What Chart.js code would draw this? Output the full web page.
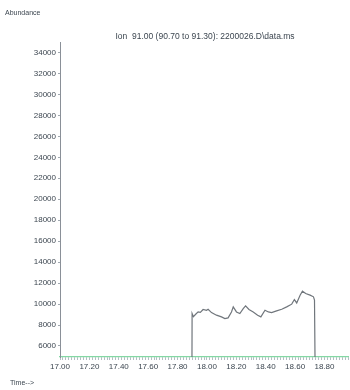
<!DOCTYPE html>
<html>
<head>
<meta charset="utf-8">
<script src="https://cdn.jsdelivr.net/npm/chart.js@4/dist/chart.umd.min.js"></script>
<style>
  html, body { margin: 0; padding: 0; background: #fff; }
  #c { display: block; }
</style>
</head>
<body>
<canvas id="c" width="350" height="390"></canvas>
<script>
// Extracted ion chromatogram, m/z 91 (retention time in minutes vs. abundance)
const titleText = "Ion  91.00 (90.70 to 91.30): 2200026.D\\data.ms";
const yAxisName = "Abundance";
const xAxisName = "Time-->";

const retentionTimes = [
  17.00, 17.898,
  17.899, 17.908, 17.925, 17.940, 17.955, 17.974, 17.997, 18.008, 18.031, 18.065, 18.099, 18.122,
  18.144, 18.167, 18.179, 18.201, 18.224, 18.247, 18.263, 18.286, 18.315, 18.345,
  18.367, 18.395, 18.418, 18.440, 18.474, 18.509, 18.543, 18.577, 18.595, 18.611,
  18.634, 18.650, 18.672, 18.702, 18.725, 18.732,
  18.736, 18.96
];
const abundance = [
  4000, 4000,
  9100, 8800, 9050, 9250, 9200, 9480, 9410, 9510, 9190, 8940, 8780, 8620,
  8680, 9250, 9730, 9250, 9100, 9570, 9830, 9480, 9250, 8940,
  8780, 9410, 9250, 9190, 9350, 9510, 9730, 9990, 10430, 10110,
  10850, 11230, 11010, 10850, 10690, 10370,
  4000, 4000
];

const yTickMin = 6000, yTickMax = 34000, yTickStep = 2000;
const xLabelStep = 0.2, xMinorStep = 0.02;

const points = retentionTimes.map((t, i) => ({ x: t, y: abundance[i] }));

const textColor = "#3c4650";
const fontFamily = "'Liberation Sans', Arial, sans-serif";

// Header and axis captions drawn around the plot area
const captions = {
  id: "captions",
  afterDraw(chart) {
    const { ctx, chartArea } = chart;
    ctx.save();
    ctx.fillStyle = textColor;
    ctx.font = "7px " + fontFamily;
    ctx.textBaseline = "middle";
    ctx.textAlign = "left";
    ctx.fillText(yAxisName, 5, 13);
    ctx.font = "8.5px " + fontFamily;
    ctx.textAlign = "center";
    ctx.fillText(titleText, 205, chartArea.top - 5);
    ctx.textAlign = "left";
    ctx.font = "7px " + fontFamily;
    ctx.fillText(xAxisName, 10, 383);
    ctx.restore();
  }
};

new Chart(document.getElementById("c"), {
  type: "line",
  data: {
    datasets: [{
      data: points,
      borderColor: "#70767c",
      borderWidth: 1.2,
      pointRadius: 0,
      tension: 0,
      fill: false
    }]
  },
  options: {
    responsive: false,
    animation: false,
    devicePixelRatio: 1,
    layout: { padding: { top: 42, right: 2, left: 0, bottom: 0 } },
    plugins: {
      legend: { display: false },
      tooltip: { enabled: false },
      title: { display: false }
    },
    scales: {
      x: {
        type: "linear",
        min: 17.0,
        max: 18.96,
        afterFit(scale) { scale.height = 33; },
        afterBuildTicks(scale) {
          const ticks = [];
          for (let i = 0; 17.0 + i * xMinorStep <= 18.96 + 1e-9; i++) {
            ticks.push({ value: +(17.0 + i * xMinorStep).toFixed(2) });
          }
          scale.ticks = ticks;
        },
        border: { display: true, color: "#84d8a4", width: 1.2 },
        grid: {
          display: true,
          drawOnChartArea: false,
          drawTicks: true,
          tickLength: 3,
          color: "#b4bcc4",
          lineWidth: 1
        },
        ticks: {
          autoSkip: false,
          maxRotation: 0,
          padding: 2,
          color: textColor,
          font: { size: 8, family: fontFamily },
          callback(value) {
            const k = Math.round(value / xMinorStep);
            return (k % Math.round(xLabelStep / xMinorStep) === 0) ? value.toFixed(2) : "";
          }
        }
      },
      y: {
        type: "linear",
        min: 4950,
        max: 35000,
        afterFit(scale) { scale.width = 60; },
        afterBuildTicks(scale) {
          const ticks = [];
          for (let v = yTickMin; v <= yTickMax; v += yTickStep) ticks.push({ value: v });
          scale.ticks = ticks;
        },
        border: { display: true, color: "#8a9098", width: 1 },
        grid: {
          display: true,
          drawOnChartArea: false,
          drawTicks: true,
          tickLength: 2,
          color: "#a0a8b0"
        },
        ticks: {
          autoSkip: false,
          padding: 2,
          color: textColor,
          font: { size: 8, family: fontFamily },
          callback(value) { return String(value); }
        }
      }
    }
  },
  plugins: [captions]
});
</script>
</body>
</html>
